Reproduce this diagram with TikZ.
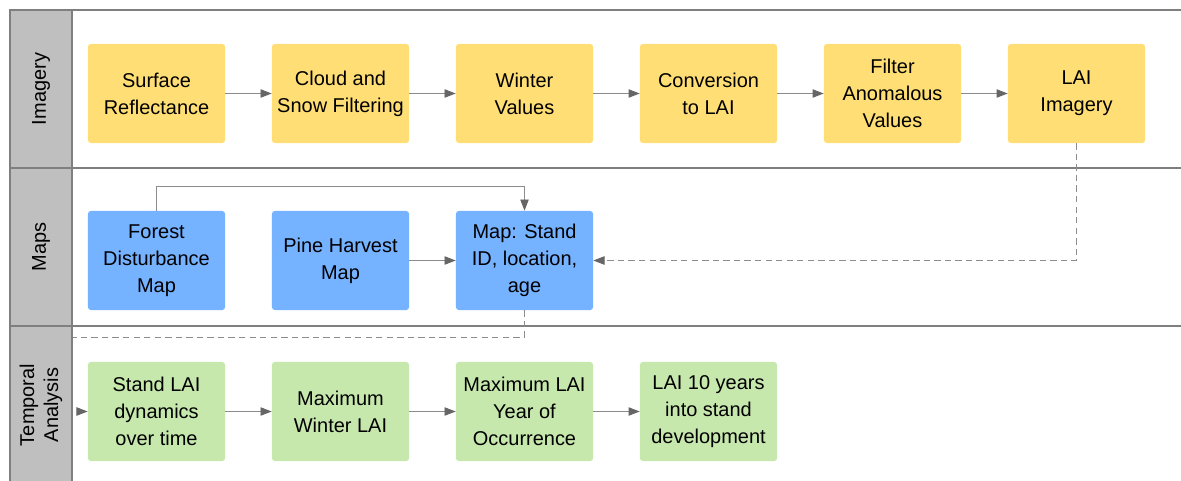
\documentclass[tikz,border=0pt]{standalone}
\usepackage{fontspec}
\setmainfont{Liberation Sans}
\usetikzlibrary{arrows.meta}

\definecolor{laneline}{HTML}{7F7F7F}
\definecolor{lanehead}{HTML}{BFBFBF}
\definecolor{imgfill}{HTML}{FFDF75}
\definecolor{mapfill}{HTML}{75B2FF}
\definecolor{tempfill}{HTML}{C7E8AD}
\definecolor{flow}{HTML}{8C8C8C}
\definecolor{tip}{HTML}{666666}

\begin{document}
\begin{tikzpicture}[
    x=0.025cm, y=-0.025cm,
    >={Triangle[length=2.8mm,width=2.1mm,color=tip]},
    box/.style={rounded corners=2pt, align=center, inner sep=2pt,
      minimum width=3.425cm, minimum height=2.475cm,
      font=\fontsize{14.2}{19.2}\selectfont},
    imgbox/.style={box, fill=imgfill},
    mapbox/.style={box, fill=mapfill},
    tempbox/.style={box, fill=tempfill},
    lanehd/.style={draw=laneline, fill=lanehead, line width=0.8pt},
    lanetxt/.style={rotate=90, align=center, font=\fontsize{14.2}{17}\selectfont},
    link/.style={draw=flow, line width=0.7pt},
    dashlink/.style={link, dash pattern=on 4.5pt off 3pt}
  ]
    \useasboundingbox (0,0) rectangle (1181,480);

    % Lanes
    \draw[laneline, line width=0.8pt] (10,10) -- (1181,10);
    \draw[laneline, line width=0.8pt] (10,168) -- (1181,168);
    \draw[laneline, line width=0.8pt] (10,326) -- (1181,326);

    % Imagery row
    \node[imgbox] (sr) at (156.5, 93.5) {Surface\\Reflectance};
    \node[imgbox] (cs) at (340.5, 93.5) {Cloud and\\Snow Filtering};
    \node[imgbox] (wv) at (524.5, 93.5) {Winter\\Values};
    \node[imgbox] (cl) at (708.5, 93.5) {Conversion\\to LAI};
    \node[imgbox] (fa) at (892.5, 93.5) {Filter\\Anomalous\\Values};
    \node[imgbox] (li) at (1076.5, 93.5) {LAI\\Imagery};

    % Maps row
    \node[mapbox] (fd) at (156.5, 260.5) {Forest\\Disturbance\\Map};
    \node[mapbox] (ph) at (340.5, 260.5) {Pine Harvest\\Map};
    \node[mapbox] (ms) at (524.5, 260.5) {Map: Stand\\ID, location,\\age};

    % Temporal analysis row
    \node[tempbox] (sl) at (156.5, 411.5) {Stand LAI\\dynamics\\over time};
    \node[tempbox] (mw) at (340.5, 411.5) {Maximum\\Winter LAI};
    \node[tempbox] (my) at (524.5, 411.5) {Maximum LAI\\Year of\\Occurrence};
    \node[tempbox] (ly) at (708.5, 411.5) {LAI 10 years\\into stand\\development};

    \coordinate (turn) at (72, 337);

    % Connections
    \draw[link, ->] (sr) -- (cs);
    \draw[link, ->] (cs) -- (wv);
    \draw[link, ->] (wv) -- (cl);
    \draw[link, ->] (cl) -- (fa);
    \draw[link, ->] (fa) -- (li);
    \draw[dashlink, ->] (li.south) |- (ms.east);
    \draw[link, ->] (fd.north) -- ++(0,-24) -| (ms.north);
    \draw[link, ->] (ph) -- (ms);
    \draw[dashlink, ->] (ms.south) |- (turn) |- (sl.west);
    \draw[link, ->] (sl) -- (mw);
    \draw[link, ->] (mw) -- (my);
    \draw[link, ->] (my) -- (ly);

    % Lane headers
    \draw[lanehd] (10,10) rectangle (72,168);
    \draw[lanehd] (10,168) rectangle (72,326);
    \draw[lanehd] (10,326) rectangle (72,492);
    \node[lanetxt] (hi) at (41, 89) {Imagery};
    \node[lanetxt] (hm) at (41, 247) {Maps};
    \node[lanetxt] (ht) at (41, 405) {Temporal\\Analysis};
\end{tikzpicture}
\end{document}
